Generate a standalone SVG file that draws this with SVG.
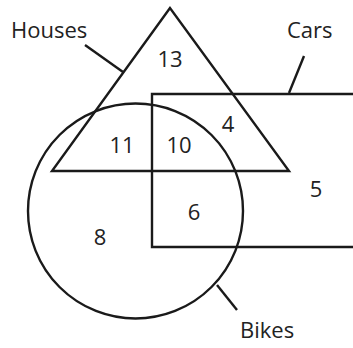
<svg xmlns="http://www.w3.org/2000/svg" width="353" height="348" viewBox="0 0 353 348">
<style>
.s{fill:none;stroke:#1a1a1a;stroke-width:2.4}
.t{font-family:"Open Sans","DejaVu Sans",sans-serif;font-size:22px;fill:#222}
.n{font-family:"Open Sans","DejaVu Sans",sans-serif;font-size:22px;fill:#222;text-anchor:middle}
</style>
<rect width="353" height="348" fill="#fff"/>
<g id="houses"><polygon class="s" points="170,8 52,171 289,171"/><text class="t" x="11" y="38">Houses</text></g>
<g id="cars"><polyline class="s" points="360,94 152,94 152,247 360,247"/><text class="t" x="287" y="38">Cars</text></g>
<g id="bikes"><circle class="s" cx="135.5" cy="211" r="107.5"/><text class="t" x="240" y="338">Bikes</text></g>
<g id="connectors">
<line class="s" x1="85" y1="45" x2="123" y2="72"/>
<line class="s" x1="304" y1="56" x2="289" y2="93"/>
<line class="s" x1="217" y1="285" x2="237" y2="310"/>
</g>
<g id="numbers">
<text class="n" x="170" y="67">13</text>
<text class="n" x="122" y="153">11</text>
<text class="n" x="179" y="153">10</text>
<text class="n" x="228" y="132">4</text>
<text class="n" x="316" y="197">5</text>
<text class="n" x="194" y="220">6</text>
<text class="n" x="100" y="245">8</text>
</g>
</svg>
